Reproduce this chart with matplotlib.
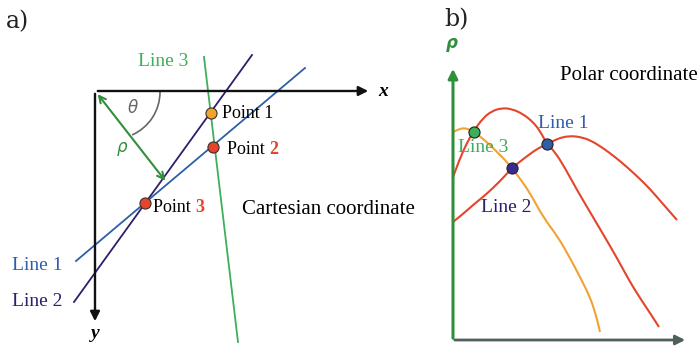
import matplotlib.pyplot as plt
from matplotlib.patches import Arc, PathPatch
from matplotlib.path import Path

# --- a) Cartesian space: three lines through three points (pixel units) ---
line1_a = [(305, 68), (76, 261)]
line2_a = [(252, 55), (74, 302)]
line3_a = [(204, 57), (238, 342)]
points_a = [(211, 113), (213, 147), (145, 203)]

# --- b) Hough space: one sinusoid per point ---
curve_p2 = [(453, 177), (460, 158), (467, 143), (473, 132), (483, 118), (492, 111),
            (502, 108), (512, 109), (523, 114), (533, 122), (540, 131), (547, 144),
            (555, 152), (565, 168), (577, 190), (590, 212), (603, 234), (617, 258),
            (630, 282), (640, 298), (650, 313), (659, 327)]
curve_p3 = [(453, 222), (463, 214), (473, 205), (483, 197), (493, 188), (503, 178),
            (512, 168), (522, 160), (530, 154), (537, 149), (547, 144), (555, 140),
            (563, 137), (572, 136), (580, 137), (590, 140), (603, 148), (615, 157),
            (627, 167), (640, 179), (650, 189), (663, 204), (677, 220)]
curve_p1 = [(453, 132), (459, 129), (465, 128), (470, 130), (474, 132), (482, 138),
            (490, 145), (498, 153), (505, 160), (512, 168), (521, 180), (530, 193),
            (543, 217), (558, 237), (570, 258), (580, 277), (590, 297), (596, 315),
            (600, 332)]
peaks_b = [(547, 144), (512, 168), (474, 132)]

c_line1 = "#2f5ea8"
c_line2 = "#2e1f6b"
c_line3 = "#3fae5a"
c_red = "#e5452a"
c_orange = "#f0a233"
serif = "Liberation Serif"


def smooth_path(pts):
    # quadratic Bezier segments through midpoints, using the read points as controls
    verts = [pts[0]]
    codes = [Path.MOVETO]
    for i in range(1, len(pts) - 1):
        mid = ((pts[i][0] + pts[i + 1][0]) / 2, (pts[i][1] + pts[i + 1][1]) / 2)
        verts += [pts[i], mid]
        codes += [Path.CURVE3, Path.CURVE3]
    verts.append(pts[-1])
    codes.append(Path.LINETO)
    return Path(verts, codes)


fig = plt.figure(figsize=(6.98, 3.48), dpi=100)
ax = fig.add_axes([0, 0, 1, 1])
ax.set_xlim(0, 698)
ax.set_ylim(348, 0)
ax.axis("off")

# panel a
ax.text(6, 22, "a)", fontsize=17, family="DejaVu Serif", va="center", color="#222222")
ax.annotate("", xy=(371, 91), xytext=(95, 91),
            arrowprops=dict(arrowstyle="-|>", lw=1.7, color="#111111", mutation_scale=14))
ax.annotate("", xy=(95, 324), xytext=(95, 91),
            arrowprops=dict(arrowstyle="-|>", lw=1.7, color="#111111", mutation_scale=14))
ax.text(378, 91, "x", fontsize=14, family=serif, style="italic", weight="bold", va="center")
ax.text(95, 333, "y", fontsize=14, family=serif, style="italic", weight="bold",
        va="center", ha="center")

for seg, col in [(line3_a, c_line3), (line2_a, c_line2), (line1_a, c_line1)]:
    xs, ys = zip(*seg)
    ax.plot(xs, ys, color=col, lw=1.3)

ax.annotate("", xy=(167, 183), xytext=(96, 92),
            arrowprops=dict(arrowstyle="<->", lw=1.5, color="#2f8f3c", mutation_scale=12))
ax.add_patch(Arc((113, 92), 94, 94, theta1=0, theta2=66, color="#666666", lw=1.2))
ax.text(133, 108, "θ", fontsize=12, color="#666666", style="italic", ha="center", va="center")
ax.text(122, 147, "ρ", fontsize=12, color="#2f8f3c", style="italic", ha="center", va="center")

point_cols = [c_orange, c_red, c_red]
for (px, py), col in zip(points_a, point_cols):
    ax.plot(px, py, "o", ms=8, mfc=col, mec="#333333", mew=0.8)
ax.text(222, 113, "Point 1", fontsize=13, family=serif, va="center")
t = ax.text(227, 150, "Point ", fontsize=13, family=serif, va="center")
ax.annotate("2", xycoords=t, xy=(1, 0.5), va="center", fontsize=13, family=serif,
            color=c_red, weight="bold")
t = ax.text(153, 207, "Point ", fontsize=13, family=serif, va="center")
ax.annotate("3", xycoords=t, xy=(1, 0.5), va="center", fontsize=13, family=serif,
            color=c_red, weight="bold")
ax.text(242, 209, "Cartesian coordinate", fontsize=15, family=serif, va="center")
ax.text(163, 61, "Line 3", fontsize=14, family=serif, color=c_line3, ha="center", va="center")
ax.text(12, 265, "Line 1", fontsize=14, family=serif, color=c_line1, va="center")
ax.text(12, 301, "Line 2", fontsize=14, family=serif, color=c_line2, va="center")

# panel b
ax.text(444, 20, "b)", fontsize=17, family="DejaVu Serif", va="center", color="#222222")
ax.annotate("", xy=(688, 340), xytext=(452, 340),
            arrowprops=dict(arrowstyle="-|>", lw=2.0, color="#4f5f5c", mutation_scale=14))
ax.annotate("", xy=(453, 66), xytext=(453, 341),
            arrowprops=dict(arrowstyle="-|>", lw=2.2, color="#2f8f3c", mutation_scale=14))
ax.text(452, 43, "ρ", fontsize=12, color="#2f8f3c", style="italic", weight="bold",
        ha="center", va="center")
ax.text(560, 75, "Polar coordinate", fontsize=15, family=serif, va="center")

for curve, col in [(curve_p2, c_red), (curve_p3, c_red), (curve_p1, c_orange)]:
    ax.add_patch(PathPatch(smooth_path(curve), fill=False, edgecolor=col, lw=1.5))

for (px, py), col in zip(peaks_b, [c_line1, "#3b2a8e", c_line3]):
    ax.plot(px, py, "o", ms=8, mfc=col, mec="#222222", mew=0.8, zorder=3)
ax.text(563, 124, "Line 1", fontsize=14, family=serif, color=c_line1, ha="center", va="center")
ax.text(483, 147, "Line 3", fontsize=14, family=serif, color=c_line3, ha="center", va="center")
ax.text(506, 208, "Line 2", fontsize=14, family=serif, color=c_line2, ha="center", va="center")

fig.savefig("out.png", dpi=100)
